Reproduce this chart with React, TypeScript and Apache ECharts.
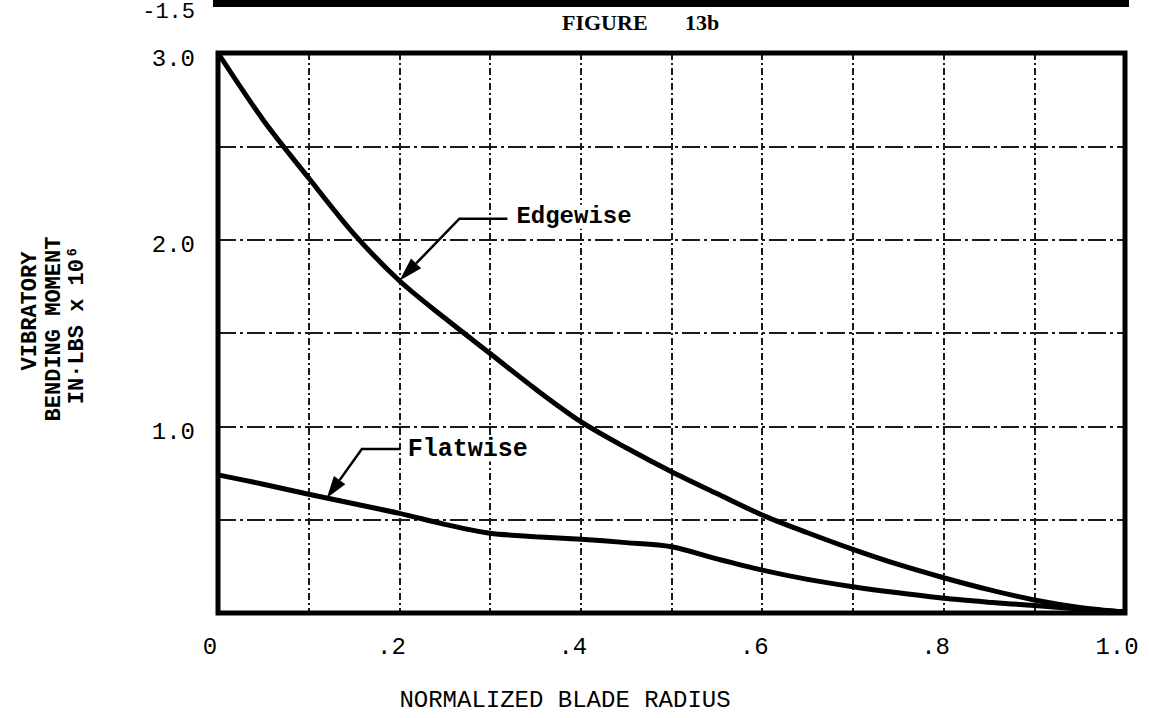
import React, { useEffect, useRef } from "react";
import * as echarts from "echarts";

// ---- data ----
const radius = [0, 0.05, 0.1, 0.15, 0.2, 0.25, 0.3, 0.35, 0.4, 0.45, 0.5, 0.55, 0.6, 0.65, 0.7, 0.75, 0.8, 0.85, 0.9, 0.95, 1.0];
const edgewise = [3.0, 2.64, 2.33, 2.03, 1.78, 1.58, 1.39, 1.2, 1.025, 0.885, 0.757, 0.64, 0.525, 0.43, 0.341, 0.26, 0.189, 0.125, 0.07, 0.03, 0.005];
const flatwise = [0.74, 0.69, 0.636, 0.585, 0.534, 0.475, 0.427, 0.409, 0.395, 0.377, 0.355, 0.29, 0.23, 0.18, 0.141, 0.108, 0.079, 0.058, 0.04, 0.022, 0.005];

const xTickValues = [0, 0.2, 0.4, 0.6, 0.8, 1.0];
const xTickLabels = ["0", ".2", ".4", ".6", ".8", "1.0"];
const yTickValues = [1, 2, 3];
const yTickLabels = ["1.0", "2.0", "3.0"];

const seriesNames = ["Edgewise", "Flatwise"];
const arrowPoints = [
  [0.2, 1.78],
  [0.12, 0.616],
];

const yNameLines = ["VIBRATORY", "BENDING MOMENT", "IN·LBS x 10⁶"];
const xName = "NORMALIZED BLADE RADIUS";
const figureTitle = ["FIGURE", "13b"];
const prevFigureLabel = "-1.5";

const MONO = "'Liberation Mono', 'DejaVu Sans Mono', 'Courier New', monospace";

function findLabel(v: number, vals: number[], labels: string[]) {
  for (let i = 0; i < vals.length; i++) {
    if (Math.abs(v - vals[i]) < 1e-6) return labels[i];
  }
  return "";
}

function arrowHead(tip: number[], from: number[], len: number, half: number) {
  const dx = tip[0] - from[0];
  const dy = tip[1] - from[1];
  const L = Math.sqrt(dx * dx + dy * dy);
  const ux = dx / L;
  const uy = dy / L;
  const bx = tip[0] - ux * len;
  const by = tip[1] - uy * len;
  const nx = -uy;
  const ny = ux;
  return {
    base: [bx, by],
    points: [
      [tip[0], tip[1]],
      [bx + nx * half, by + ny * half],
      [bx - nx * half, by - ny * half],
    ],
  };
}

export default function App() {
  const ref = useRef<HTMLDivElement>(null);

  useEffect(() => {
    if (!ref.current) return;
    const chart = echarts.init(ref.current, undefined, { renderer: "svg" });

    const option: any = {
      animation: false,
      backgroundColor: "#ffffff",
      grid: {
        left: 218,
        right: 24,
        top: 53,
        bottom: 105,
        show: true,
        borderColor: "#000",
        borderWidth: 5,
        backgroundColor: "transparent",
        z: 3,
      },
      xAxis: {
        type: "value",
        min: 0,
        max: 1,
        interval: 0.1,
        axisLine: { show: false },
        axisTick: { show: false },
        splitLine: {
          show: true,
          lineStyle: { color: "#1a1a1a", width: 2, type: [7, 3, 2, 3] },
        },
        axisLabel: {
          margin: 22,
          color: "#000",
          fontFamily: MONO,
          fontSize: 24,
          padding: [0, 16, 0, 0],
          formatter: (v: number) => findLabel(v, xTickValues, xTickLabels),
        },
      },
      yAxis: {
        type: "value",
        min: 0,
        max: 3,
        interval: 0.5,
        axisLine: { show: false },
        axisTick: { show: false },
        splitLine: {
          show: true,
          lineStyle: { color: "#1a1a1a", width: 2, type: [18, 4, 3, 4] },
        },
        axisLabel: {
          margin: 23,
          color: "#000",
          fontFamily: MONO,
          fontSize: 24,
          verticalAlign: "top",
          lineHeight: 12,
          formatter: (v: number) => findLabel(v, yTickValues, yTickLabels),
        },
      },
      series: [
        {
          name: seriesNames[0],
          type: "line",
          data: radius.map((r, i) => [r, edgewise[i]]),
          smooth: 0.3,
          showSymbol: false,
          lineStyle: { color: "#000", width: 5 },
          z: 4,
        },
        {
          name: seriesNames[1],
          type: "line",
          data: radius.map((r, i) => [r, flatwise[i]]),
          smooth: 0.3,
          showSymbol: false,
          lineStyle: { color: "#000", width: 5 },
          z: 4,
        },
      ],
    };
    chart.setOption(option);

    // annotations anchored to data points
    const tipE = chart.convertToPixel({ gridIndex: 0 }, arrowPoints[0]) as number[];
    const tipF = chart.convertToPixel({ gridIndex: 0 }, arrowPoints[1]) as number[];
    const cornerE = [tipE[0] + 60, tipE[1] - 62];
    const endE = [cornerE[0] + 48, cornerE[1]];
    const cornerF = [tipF[0] + 35, tipF[1] - 49];
    const endF = [cornerF[0] + 38, cornerF[1]];
    const headE = arrowHead(tipE, cornerE, 24, 7);
    const headF = arrowHead(tipF, cornerF, 22, 7);

    const gridRight = 1149 - 24;
    const graphic: any[] = [
      // bottom edge of the previous figure
      { type: "rect", shape: { x: 213, y: -2, width: gridRight + 4 - 213, height: 9 }, style: { fill: "#000" } },
      {
        type: "text",
        x: 195,
        y: 12,
        style: { text: prevFigureLabel, fill: "#000", font: `22px ${MONO}`, align: "right", verticalAlign: "middle" },
      },
      {
        type: "text",
        x: 562,
        y: 22,
        style: { text: figureTitle[0], fill: "#000", font: `bold 22px 'Liberation Serif', serif`, align: "left", verticalAlign: "middle" },
      },
      {
        type: "text",
        x: 685,
        y: 22,
        style: { text: figureTitle[1], fill: "#000", font: `bold 22px 'Liberation Serif', serif`, align: "left", verticalAlign: "middle" },
      },
      // y axis name (three rotated lines)
      {
        type: "text",
        x: 30,
        y: 311,
        rotation: Math.PI / 2,
        style: { text: yNameLines[0], fill: "#000", font: `bold 22px ${MONO}`, align: "center", verticalAlign: "middle" },
      },
      {
        type: "text",
        x: 54,
        y: 329,
        rotation: Math.PI / 2,
        style: { text: yNameLines[1], fill: "#000", font: `bold 22px ${MONO}`, align: "center", verticalAlign: "middle" },
      },
      {
        type: "text",
        x: 77,
        y: 325,
        rotation: Math.PI / 2,
        style: { text: yNameLines[2], fill: "#000", font: `bold 22px ${MONO}`, align: "center", verticalAlign: "middle" },
      },
      // x axis name
      {
        type: "text",
        x: 565,
        y: 700,
        style: { text: xName, fill: "#000", font: `24px ${MONO}`, align: "center", verticalAlign: "middle" },
      },
      // Edgewise annotation
      {
        type: "polyline",
        shape: { points: [endE, cornerE, headE.base] },
        style: { stroke: "#000", lineWidth: 2.5, fill: null },
        z: 10,
      },
      { type: "polygon", shape: { points: headE.points }, style: { fill: "#000" }, z: 10 },
      {
        type: "text",
        x: endE[0] + 9,
        y: endE[1] - 2,
        z: 10,
        style: { text: seriesNames[0], fill: "#000", font: `bold 24px ${MONO}`, align: "left", verticalAlign: "middle", backgroundColor: "#fff" },
      },
      // Flatwise annotation
      {
        type: "polyline",
        shape: { points: [endF, cornerF, headF.base] },
        style: { stroke: "#000", lineWidth: 2.5, fill: null },
        z: 10,
      },
      { type: "polygon", shape: { points: headF.points }, style: { fill: "#000" }, z: 10 },
      {
        type: "text",
        x: endF[0] + 8,
        y: endF[1],
        z: 10,
        style: { text: seriesNames[1], fill: "#000", font: `bold 25px ${MONO}`, align: "left", verticalAlign: "middle", backgroundColor: "#fff" },
      },
    ];
    chart.setOption({ graphic });

    return () => {
      chart.dispose();
    };
  }, []);

  return (
    <div
      ref={ref}
      style={{ position: "absolute", left: 0, top: 0, width: 1149, height: 718, background: "#fff" }}
    />
  );
}
